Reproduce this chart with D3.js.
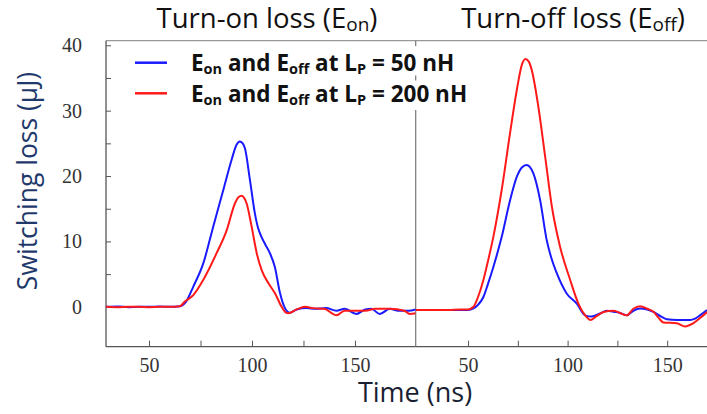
<!doctype html>
<html lang="en">
<head>
  <meta charset="utf-8">
  <title>Switching loss</title>
  <style>
    body { margin: 0; background: #fff; }
    svg { display: block; }
    .tick text { font-family: "Liberation Serif", "DejaVu Serif", serif; font-size: 20px; fill: #333; }
    .axis path { stroke: #555; }
    .axis line { stroke: #555; }
    .title, .lab, .legend { font-family: "Open Sans", Lato, sans-serif; }
  </style>
</head>
<body>
  <div id="chart"></div>
  <script src="https://cdn.jsdelivr.net/npm/d3@7"></script>
  <script>
// values: [time (ns), loss (uJ)]
var onBlue = [[29,0],[35,0.05],[40,-0.05],[45,0],[50,0],[55,0.05],[60,0],[65,0.1],[68,0.8],[71.5,3.1],[76.3,6.6],
  [81.2,12.3],[86.1,17.9],[90.1,22.5],[92.5,24.8],[94,25.3],[95.5,25],[96.6,24.2],[99,19.4],[101.4,14.3],[103,12],
  [104.6,10.7],[106.5,9.5],[108.7,8.2],[111.1,6.1],[113.6,2.1],[116,-0.2],[118.4,-0.9],[121.7,-0.4],[126.5,-0.2],
  [131,-0.3],[136,-0.2],[141,-0.6],[145,-0.3],[150.7,-1.1],[155,-0.4],[158,-0.3],[162,-1.1],[167,-0.3],[171,-0.6],
  [176,-0.6],[179.5,-0.4]];
var onRed = [[29,0],[35,-0.05],[40,0],[45,0],[50,-0.05],[55,0],[60,0],[65,0.1],[67.4,0.8],[71.5,1.8],[76.3,4.1],
  [82.8,8.2],[87.7,11.7],[91.7,15.8],[93.5,16.8],[95,17],[96.3,16.6],[97.4,15.8],[99.8,12.3],[102.3,8.2],[104.7,5.6],
  [108,3.6],[111.1,2.1],[114.4,0],[116.5,-0.9],[117.6,-1.0],[121.7,-0.4],[125.7,0],[129.6,-0.2],[135,-0.3],[141,-1.3],
  [145,-0.6],[150,-0.6],[155,-0.6],[160,-0.3],[167,-0.3],[174,-0.6],[176.6,-1.1],[179.5,-1.0]];
var offBlue = [[23.7,-0.5],[30,-0.5],[40,-0.5],[50,-0.5],[52.7,-0.25],[55,0.3],[57.7,1.5],[60,3.5],[62.7,6.1],
  [66.9,10.7],[71.1,16.3],[74.5,19.9],[77,21.3],[79.4,21.7],[81,21.4],[82.8,20.4],[86.2,16.3],[89.5,10.2],[92,7.3],
  [94.6,5.1],[99.6,2.0],[104.6,0.5],[108.8,-1.3],[112.1,-1.5],[116.3,-1.0],[119.7,-0.6],[123,-0.77],[126,-0.9],
  [129.7,-1.3],[133,-0.6],[136.4,-0.25],[140,-0.4],[143.1,-0.77],[147,-1.5],[149.8,-1.9],[155,-2.0],[161.5,-2.0],
  [164,-1.8],[166.5,-1.3],[170,-0.5]];
var offRed = [[23.7,-0.5],[30,-0.5],[40,-0.5],[46,-0.4],[50,-0.4],[52.7,0],[55,1.5],[57.7,4.1],[60,7],[62.7,10.7],
  [66.9,17.9],[71.1,26.6],[74.5,33.2],[77,37],[78.8,37.9],[80.5,37.5],[82,36.2],[85.3,30.6],[88.7,23],[92.1,15.3],
  [96.2,9.2],[101.3,4.1],[105.4,0.5],[108.8,-1.3],[111.6,-2.0],[114.7,-1.4],[118,-0.8],[123,-0.6],[126,-0.9],
  [129.7,-1.3],[133,-0.3],[136.4,0.1],[140,-0.3],[143.1,-0.77],[146,-1.8],[148.1,-2.4],[154.8,-2.5],[159,-3.0],
  [163.2,-2.5],[167.4,-1.5],[170,-0.8]];

var yMajor = [0, 10, 20, 30, 40];
var yMinor = [5, 15, 25, 35];
var xMajor = [50, 100, 150];
var xMinor = [75, 125];

var legendItems = [
  { color: "#1a1aff", lp: "50 nH" },
  { color: "#ff1a1a", lp: "200 nH" }
];

(function() {
  var width = 707, height = 414;
  var left = 106, right = 707, top = 40.7, bottom = 346.7, mid = 415.7;

  var svg = d3.select("#chart").append("svg")
      .attr("width", width)
      .attr("height", height);

  var y = d3.scaleLinear().domain([-6.1, 40.7]).range([bottom, top]);
  var xOn = d3.scaleLinear().domain([29.1, 179.5]).range([left, mid]);
  var xOff = d3.scaleLinear().domain([23.7, 170]).range([mid, right]);

  // clip each panel
  var defs = svg.append("defs");
  defs.append("clipPath").attr("id", "clipOn").append("rect")
      .attr("x", left).attr("y", top).attr("width", mid - left).attr("height", bottom - top);
  defs.append("clipPath").attr("id", "clipOff").append("rect")
      .attr("x", mid).attr("y", top).attr("width", right - mid).attr("height", bottom - top);

  // top frame line
  svg.append("line").attr("x1", left).attr("x2", right).attr("y1", top).attr("y2", top)
      .attr("stroke", "#999").attr("stroke-width", 1.2);
  // panel divider
  svg.append("line").attr("x1", mid).attr("x2", mid).attr("y1", top).attr("y2", bottom)
      .attr("stroke", "#777").attr("stroke-width", 1.2);

  // y axis, ticks inward
  svg.append("g").attr("class", "axis")
      .attr("transform", "translate(" + left + ",0)")
      .call(d3.axisLeft(y).tickValues(yMajor).tickSize(-5).tickPadding(24).tickFormat(d3.format("d")))
      .call(function(g) { g.select(".domain").attr("d", "M0," + top + "V" + bottom); });
  svg.append("g").attr("class", "axis")
      .attr("transform", "translate(" + left + ",0)")
      .call(d3.axisLeft(y).tickValues(yMinor).tickSize(-5).tickFormat(""))
      .call(function(g) { g.select(".domain").remove(); });

  // x axes, ticks inward
  function xAxis(scale) {
    svg.append("g").attr("class", "axis")
        .attr("transform", "translate(0," + bottom + ")")
        .call(d3.axisBottom(scale).tickValues(xMajor).tickSize(-6).tickPadding(11).tickFormat(d3.format("d")))
        .call(function(g) { g.select(".domain").attr("d", "M" + scale.range()[0] + ",0H" + scale.range()[1]); });
    svg.append("g").attr("class", "axis")
        .attr("transform", "translate(0," + bottom + ")")
        .call(d3.axisBottom(scale).tickValues(xMinor).tickSize(-6).tickFormat(""))
        .call(function(g) { g.select(".domain").remove(); });
  }
  xAxis(xOn);
  xAxis(xOff);
  svg.selectAll(".axis .domain").attr("stroke-width", 1.3);

  // curves
  function drawLine(data, xs, color, clip) {
    var line = d3.line()
        .x(function(d) { return xs(d[0]); })
        .y(function(d) { return y(d[1]); })
        .curve(d3.curveMonotoneX);
    svg.append("path")
        .datum(data)
        .attr("clip-path", "url(#" + clip + ")")
        .attr("fill", "none")
        .attr("stroke", color)
        .attr("stroke-width", 2)
        .attr("stroke-linejoin", "round")
        .attr("d", line);
  }
  drawLine(onBlue, xOn, legendItems[0].color, "clipOn");
  drawLine(onRed, xOn, legendItems[1].color, "clipOn");
  drawLine(offBlue, xOff, legendItems[0].color, "clipOff");
  drawLine(offRed, xOff, legendItems[1].color, "clipOff");

  // legend box hides the divider behind the text
  svg.append("rect").attr("x", 128).attr("y", 46).attr("width", 350).attr("height", 64).attr("fill", "#fff");
  svg.append("line").attr("x1", mid).attr("x2", mid).attr("y1", y(35) - 2.5).attr("y2", y(35) + 2.5)
      .attr("stroke", "#777").attr("stroke-width", 1.2);

  var leg = svg.append("g").attr("class", "legend");
  legendItems.forEach(function(item, i) {
    var ly = 62.7 + i * 30.6;
    leg.append("line").attr("x1", 135).attr("x2", 167).attr("y1", ly).attr("y2", ly)
        .attr("stroke", item.color).attr("stroke-width", 2.5);
    var t = leg.append("text").attr("x", 191).attr("y", ly + 8.2)
        .attr("font-size", 22.5).attr("font-weight", "bold").attr("fill", "#111");
    t.append("tspan").text("E");
    t.append("tspan").attr("font-size", 14.5).attr("dy", 3).text("on");
    t.append("tspan").attr("dy", -3).text(" and E");
    t.append("tspan").attr("font-size", 14.5).attr("dy", 3).text("off");
    t.append("tspan").attr("dy", -3).text(" at L");
    t.append("tspan").attr("font-size", 14.5).attr("dy", 3).text("P");
    t.append("tspan").attr("dy", -3).text(" = " + item.lp);
  });

  // panel titles
  function title(cx, main, sub) {
    var t = svg.append("text").attr("class", "title")
        .attr("x", cx).attr("y", 28).attr("text-anchor", "middle")
        .attr("font-size", 27.5).attr("font-weight", 500).attr("fill", "#111");
    t.append("tspan").text(main + " (E");
    t.append("tspan").attr("font-size", 19).attr("dy", 3).text(sub);
    t.append("tspan").attr("dy", -3).text(")");
  }
  title(267, "Turn-on loss", "on");
  title(573, "Turn-off loss", "off");

  // axis labels
  svg.append("text").attr("class", "lab")
      .attr("transform", "translate(37,181) rotate(-90)")
      .attr("text-anchor", "middle")
      .attr("font-size", 26.5).attr("fill", "#1f3a6a")
      .text("Switching loss (\u00b5J)");
  svg.append("text").attr("class", "lab")
      .attr("x", 415).attr("y", 402).attr("text-anchor", "middle")
      .attr("font-size", 27).attr("fill", "#1a1f33")
      .text("Time (ns)");
})();
  </script>
</body>
</html>
